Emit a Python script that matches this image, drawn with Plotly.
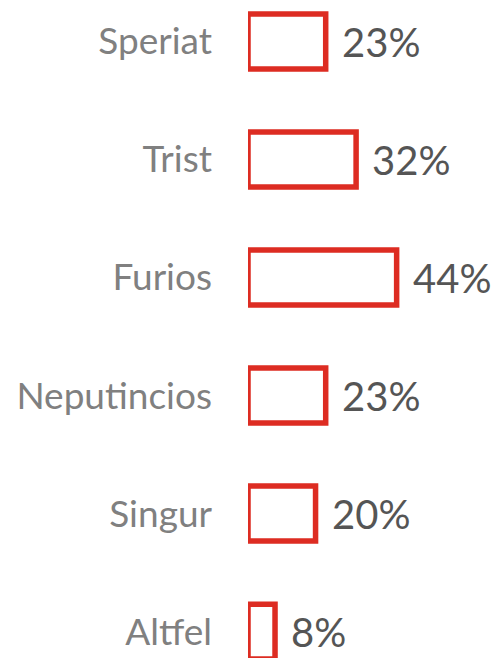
import plotly.graph_objects as go

categories = ["Speriat", "Trist", "Furios", "Neputincios", "Singur", "Altfel"]
values = [23, 32, 44, 23, 20, 8]
value_labels = [f"{v}%" for v in values]

fig = go.Figure()
fig.add_trace(go.Bar(
    x=values, y=categories, orientation="h",
    width=0.465,
    marker=dict(color="white", line=dict(color="#DD2C22", width=5.5)),
    hoverinfo="skip",
))
for c, v, t in zip(categories, values, value_labels):
    fig.add_annotation(x=v, y=c, text=t, xanchor="left", yanchor="middle",
                       xshift=14, showarrow=False,
                       font=dict(family="Lato", size=40, color="#555555"))

fig.update_layout(
    width=491, height=650,
    margin=dict(l=240, r=0, t=0, b=0),
    plot_bgcolor="white", paper_bgcolor="white",
    showlegend=False,
    xaxis=dict(range=[0, 74.3], visible=False, fixedrange=True),
    yaxis=dict(range=[5.224, -0.284], showgrid=False, zeroline=False,
               showline=False, ticks="", ticklabelstandoff=35,
               tickfont=dict(family="Lato", size=37, color="#808080")),
)
fig.write_html("out.html")
